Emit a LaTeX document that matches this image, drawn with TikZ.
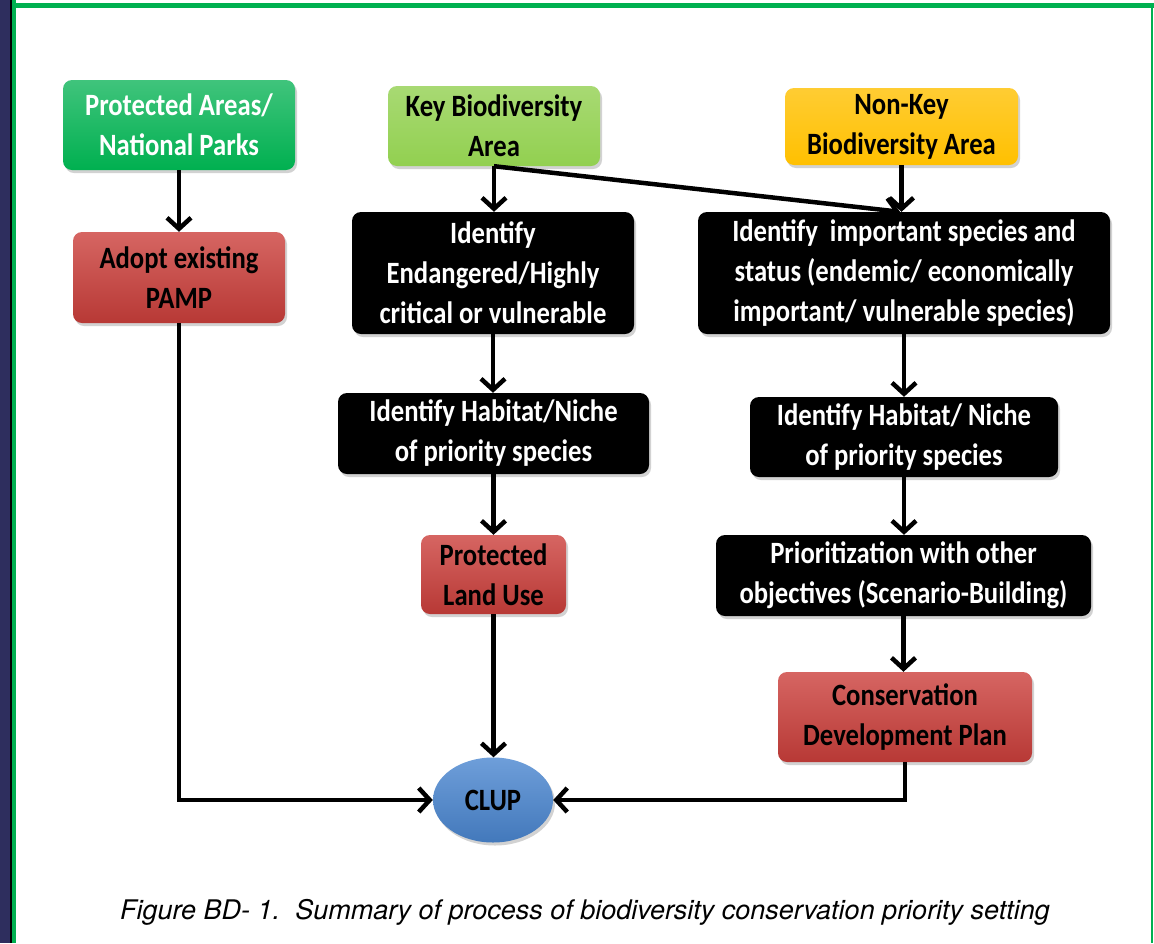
\documentclass[tikz,border=0pt]{standalone}
\usepackage{fontspec}
\setmainfont{Carlito}[FakeStretch=0.86]
\newfontfamily\capfont{TeX Gyre Heros}
\usetikzlibrary{arrows.meta,shapes.geometric,shadows}
\definecolor{pagreen}{HTML}{00B050}
\definecolor{keygreen}{HTML}{92D050}
\definecolor{nkyellow}{HTML}{FFC000}
\definecolor{boxred}{HTML}{CC3F3B}
\definecolor{clupblue}{HTML}{4A86D0}
\definecolor{framegreen}{HTML}{00B050}
\definecolor{stripnavy}{HTML}{2E2E5E}
\tikzset{
  box/.style={rounded corners=9pt, align=center, inner sep=0pt,
    drop shadow={opacity=0.35, shadow xshift=2pt, shadow yshift=-3pt},
    font=\fontsize{31}{40}\selectfont\bfseries},
  colbox/.style={box},
  darkbox/.style={box, fill=black, text=white},
  arr/.style={line width=4.5pt, -{Straight Barb[length=11pt,width=24pt]}}
}
\begin{document}
\begin{tikzpicture}[x=1pt,y=-1pt]
\useasboundingbox (0,0) rectangle (1154,943);
\fill[white] (0,0) rectangle (1154,943);
% frame
\fill[stripnavy] (0,0) rectangle (10,943);
\fill[black] (10,0) rectangle (12,943);
\fill[framegreen] (12,0) rectangle (16,943);
\fill[framegreen] (12,3) rectangle (1154,8);
\fill[framegreen] (1151,3) rectangle (1153,943);
% nodes
\node[colbox, top color=pagreen!75!white, bottom color=pagreen, text=white,
  minimum width=232pt, minimum height=90pt] (pa) at (179,125) {Protected Areas/\\National Parks};
\node[colbox, top color=boxred!80!white, bottom color=boxred!90!black,
  minimum width=212pt, minimum height=91pt] (adopt) at (179,277.5) {Adopt existing\\PAMP};
\node[colbox, top color=keygreen!80!white, bottom color=keygreen,
  minimum width=212pt, minimum height=80pt] (key) at (494,126) {Key Biodiversity\\Area};
\node[colbox, top color=nkyellow!80!white, bottom color=nkyellow,
  minimum width=233pt, minimum height=77pt] (nonkey) at (901.5,126.5) {Non-Key\\Biodiversity Area};
\node[darkbox, minimum width=282pt, minimum height=122pt] (b1l) at (493,273)
  {Identify\\Endangered/Highly\\critical or vulnerable};
\node[darkbox, minimum width=412pt, minimum height=122pt] (b1r) at (904,273)
  {Identify\ \ important species and\\status (endemic/ economically\\important/ vulnerable species)};
\node[darkbox, minimum width=311pt, minimum height=81pt] (b2l) at (493.5,433.5)
  {Identify Habitat/Niche\\of priority species};
\node[darkbox, minimum width=308pt, minimum height=80pt] (b2r) at (904,437)
  {Identify Habitat/ Niche\\of priority species};
\node[colbox, top color=boxred!80!white, bottom color=boxred!90!black,
  minimum width=145pt, minimum height=79pt] (plu) at (493.5,574.5) {Protected\\Land Use};
\node[darkbox, minimum width=375pt, minimum height=81pt] (b3r) at (903.5,575.5)
  {Prioritization with other\\objectives (Scenario-Building)};
\node[colbox, top color=boxred!80!white, bottom color=boxred!90!black,
  minimum width=254pt, minimum height=90pt] (cdp) at (905,717) {Conservation\\Development Plan};
\node[ellipse, inner sep=0pt, top color=clupblue!80!white, bottom color=clupblue!90!black,
  drop shadow={opacity=0.35, shadow xshift=2pt, shadow yshift=-3pt},
  minimum width=120pt, minimum height=85pt, font=\fontsize{31}{40}\selectfont\bfseries] (clup) at (493,800) {CLUP};
% connectors
\draw[arr] (pa.south) -- (pa.south |- adopt.north);
\draw[arr] (key.south) -- (key.south |- b1l.north);
\draw[arr] (key.south) -- ([xshift=-4pt]b1r.north);
\draw[arr] (nonkey.south) -- (nonkey.south |- b1r.north);
\draw[arr] (b1l.south) -- (b1l.south |- b2l.north);
\draw[arr] (b2l.south) -- (b2l.south |- plu.north);
\draw[arr] (plu.south) -- (plu.south |- clup.north);
\draw[arr] (b1r.south) -- (b1r.south |- b2r.north);
\draw[arr] (b2r.south) -- (b2r.south |- b3r.north);
\draw[arr] (b3r.south) -- (b3r.south |- cdp.north);
\draw[arr] (adopt.south) |- (clup.west);
\draw[arr] (cdp.south) |- (clup.east);
% caption
\node[font=\capfont\itshape\fontsize{27}{32}\selectfont, anchor=center] (cap) at (585,912)
  {Figure BD- 1.\ \ Summary of process of biodiversity conservation priority setting};
\end{tikzpicture}
\end{document}
